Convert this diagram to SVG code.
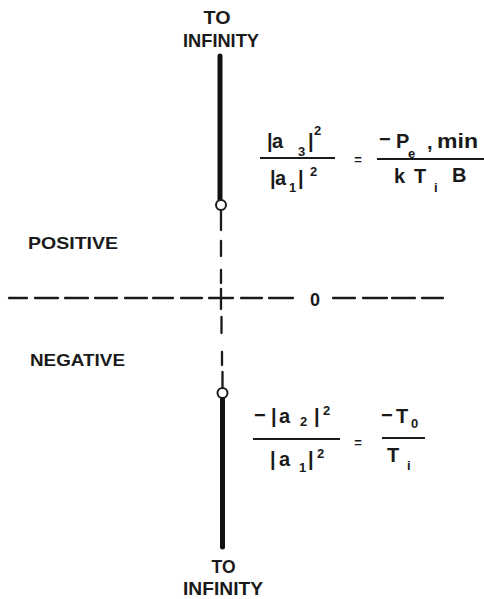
<svg xmlns="http://www.w3.org/2000/svg" width="484" height="599" viewBox="0 0 484 599">
<style>
.t{font-family:"Liberation Sans",Arial,sans-serif;font-weight:bold;fill:#1a1a1a}
.m{font-size:20px}
.s{font-size:13px}
.bar{stroke:#1a1a1a;stroke-width:2.2;fill:none}
.dash{stroke:#1a1a1a;stroke-width:2.3;fill:none;stroke-linecap:round}
.thick{stroke:#111;stroke-width:5;stroke-linecap:round;fill:none}
.ring{stroke:#1a1a1a;stroke-width:2;fill:#fff}
</style>
<rect width="484" height="599" fill="#fff"/>
<g id="connectors">
  <path class="dash" d="M9 298H27M35 298H58M65 298H88M95 298H117M125 298H147M153 298H173M181 298H202M209 298H233M241 298H262M269 298H293M333 298H355M363 298H387M392 298H415M422 298H443"/>
  <path class="dash" d="M221 211V230M221 241V256M221 270V283M221 289V309M221.5 317V333M222 352V365M222.5 372V388"/>
  <line class="thick" x1="220" y1="56" x2="220" y2="199"/>
  <line class="thick" x1="222.5" y1="398" x2="222.5" y2="547"/>
</g>
<g id="node-upper-point"><circle class="ring" cx="221" cy="205" r="5"/></g>
<g id="node-lower-point"><circle class="ring" cx="222.5" cy="393" r="5"/></g>
<g id="label-top">
  <text class="t" font-size="18" x="217" y="24" text-anchor="middle" textLength="27" lengthAdjust="spacingAndGlyphs">TO</text>
  <text class="t" font-size="18" x="221" y="47" text-anchor="middle" textLength="76" lengthAdjust="spacingAndGlyphs">INFINITY</text>
</g>
<g id="label-bottom">
  <text class="t" font-size="18" x="223.5" y="573" text-anchor="middle" textLength="24" lengthAdjust="spacingAndGlyphs">TO</text>
  <text class="t" font-size="18" x="223" y="595" text-anchor="middle" textLength="80" lengthAdjust="spacingAndGlyphs">INFINITY</text>
</g>
<g id="label-positive"><text class="t" font-size="16.5" x="28" y="249" textLength="90" lengthAdjust="spacingAndGlyphs">POSITIVE</text></g>
<g id="label-negative"><text class="t" font-size="16.5" x="30" y="366" textLength="95" lengthAdjust="spacingAndGlyphs">NEGATIVE</text></g>
<g id="label-zero"><text class="t" font-size="18" x="315" y="306" text-anchor="middle">0</text></g>
<g id="formula-upper">
  <text class="t m" x="267" y="148">|</text>
  <text class="t m" x="272" y="148">a</text>
  <text class="t s" x="298" y="156">3</text>
  <text class="t m" x="308" y="148">|</text>
  <text class="t s" x="314" y="135">2</text>
  <line class="bar" x1="260" y1="158" x2="335" y2="158"/>
  <text class="t m" x="270" y="185">|</text>
  <text class="t m" x="275" y="185">a</text>
  <text class="t s" x="289" y="192">1</text>
  <text class="t m" x="298" y="185">|</text>
  <text class="t s" x="310" y="176">2</text>
  <text class="t" font-size="13" x="358" y="164" text-anchor="middle">=</text>
  <text class="t m" x="379" y="146">−</text>
  <text class="t m" x="396" y="148">P</text>
  <text class="t s" x="408" y="158">e</text>
  <text class="t m" x="427" y="149">,</text>
  <text class="t m" x="437" y="148" textLength="41" lengthAdjust="spacingAndGlyphs">min</text>
  <line class="bar" x1="377" y1="159" x2="484" y2="159"/>
  <text class="t m" x="394" y="183">k</text>
  <text class="t m" x="414" y="183">T</text>
  <text class="t s" x="434" y="192">i</text>
  <text class="t m" x="452" y="182">B</text>
</g>
<g id="formula-lower">
  <text class="t m" x="254" y="422">−</text>
  <text class="t m" x="271" y="423">|</text>
  <text class="t m" x="279" y="423">a</text>
  <text class="t s" x="300" y="426">2</text>
  <text class="t m" x="314" y="423">|</text>
  <text class="t s" x="323" y="415">2</text>
  <line class="bar" x1="253" y1="439" x2="340" y2="439"/>
  <text class="t m" x="270" y="466">|</text>
  <text class="t m" x="279" y="466">a</text>
  <text class="t s" x="299" y="472">1</text>
  <text class="t m" x="308" y="466">|</text>
  <text class="t s" x="317" y="458">2</text>
  <text class="t" font-size="13" x="358" y="447" text-anchor="middle">=</text>
  <text class="t m" x="381" y="422">−</text>
  <text class="t m" x="396" y="423">T</text>
  <text class="t s" x="411" y="428">0</text>
  <line class="bar" x1="382" y1="438" x2="425" y2="438"/>
  <text class="t m" x="387" y="462">T</text>
  <text class="t s" x="407" y="470">i</text>
</g>
</svg>
